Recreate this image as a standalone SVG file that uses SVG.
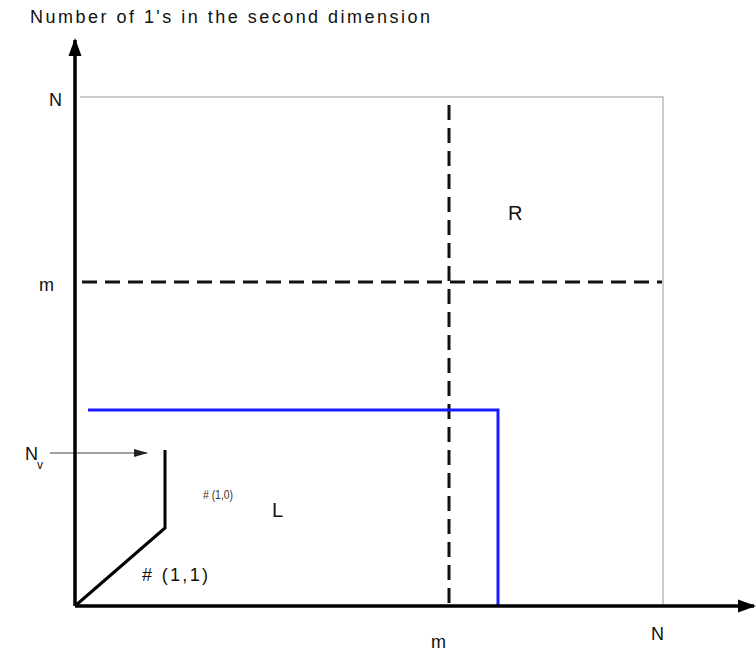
<svg xmlns="http://www.w3.org/2000/svg" width="756" height="651" viewBox="0 0 756 651">
<style>
text{font-family:"Liberation Sans",Arial,sans-serif;fill:#111}
.lbl{font-size:18px}
.axis{stroke:#000;stroke-width:3.5;fill:none}
.grid{stroke:#bbb;stroke-width:1.5;fill:none}
.dash{stroke:#111;stroke-width:3;stroke-dasharray:15 8;fill:none}
.blue{stroke:#1a1aff;stroke-width:3;fill:none}
.path{stroke:#000;stroke-width:3;fill:none}
.thin{stroke:#444;stroke-width:1;fill:none}
</style>
<defs>
<marker id="big" markerWidth="18" markerHeight="14" refX="16" refY="7" orient="auto" markerUnits="userSpaceOnUse"><path d="M0,0.5 L18,7 L0,13.5 Z" fill="#000"/></marker>
<marker id="small" markerWidth="14" markerHeight="10" refX="13" refY="5" orient="auto" markerUnits="userSpaceOnUse"><path d="M0,1 L14,5 L0,9 Z" fill="#222"/></marker>
</defs>
<text x="30" y="23" style="font-size:18px" textLength="400" lengthAdjust="spacing">Number of 1's in the second dimension</text>
<g id="connectors">
<path id="grid-box" class="grid" d="M80,97 H663 V606"/>
<path id="v-dash" class="dash" d="M449,105 V606"/>
<path id="h-dash" class="dash" d="M82,282 H662"/>
<path id="blue-region" class="blue" d="M88,410 H498 V606"/>
<path id="steps" class="path" d="M165,450 V528 L75,606"/>
<path id="nv-arrow" class="thin" d="M50,453 H147" marker-end="url(#small)"/>
<path id="y-axis" class="axis" d="M75,606 V40" marker-end="url(#big)"/>
<path id="x-axis" class="axis" d="M75,606 H754" marker-end="url(#big)"/>
</g>
<g id="labels">
<text class="lbl" x="49" y="106">N</text>
<text class="lbl" x="39" y="291">m</text>
<text class="lbl" x="25" y="460">N</text><text x="37" y="469" style="font-size:12px">v</text>
<text x="203" y="499" style="font-size:12px;fill:#333" textLength="30" lengthAdjust="spacingAndGlyphs"># (1,0)</text>
<text class="lbl" x="142" y="581" textLength="66" lengthAdjust="spacing"># (1,1)</text>
<text x="272" y="517" style="font-size:20px">L</text>
<text x="508" y="220" style="font-size:20px">R</text>
<text class="lbl" x="431" y="648">m</text>
<text class="lbl" x="651" y="640">N</text>
</g>
</svg>
